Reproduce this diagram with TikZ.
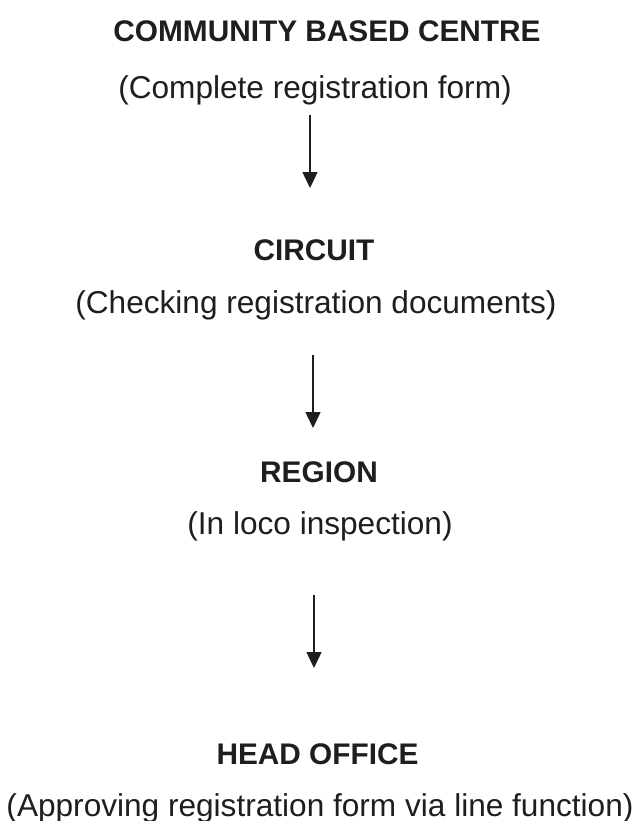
\documentclass[tikz,border=0pt]{standalone}
\usepackage{fontspec}
\setmainfont{Liberation Sans}
\usetikzlibrary{arrows.meta}
\definecolor{ink}{HTML}{1E1E1E}
\tikzset{
  level/.style={anchor=base, text=ink, inner sep=0pt, font=\fontsize{14.9}{18}\selectfont\bfseries},
  task/.style={anchor=base, text=ink, inner sep=0pt, font=\fontsize{15.8}{18}\selectfont},
  flow/.style={draw=ink, line width=0.75pt, -{Triangle[length=8pt,width=7.5pt]}}
}
\begin{document}
\begin{tikzpicture}
  \useasboundingbox (0,0) rectangle (318.5pt,-410.5pt);

\node[level] (cbc) at (163.5pt,-20.5pt){COMMUNITY BASED CENTRE};
\node[task] (complete) at (157.5pt,-49pt){(Complete registration form)};

\node[level] (circuit) at (157pt,-130pt){CIRCUIT};
\node[task] (checking) at (158pt,-156.5pt){(Checking registration documents)};

\node[level] (region) at (159.5pt,-241pt){REGION};
\node[task] (inloco) at (160pt,-267pt){(In loco inspection)};

\node[level] (head) at (158.75pt,-382pt){HEAD OFFICE};
\node[task] (approving) at (160pt,-408pt){(Approving registration form via line function)};

  \coordinate (t1) at (155pt,-57.5pt);
  \coordinate (h1) at (155pt,-94pt);
  \coordinate (t2) at (156.5pt,-177.5pt);
  \coordinate (h2) at (156.5pt,-214pt);
  \coordinate (t3) at (157pt,-297.5pt);
  \coordinate (h3) at (157pt,-334pt);

  \draw[flow] (t1) -- (h1);
  \draw[flow] (t2) -- (h2);
  \draw[flow] (t3) -- (h3);
\end{tikzpicture}
\end{document}
